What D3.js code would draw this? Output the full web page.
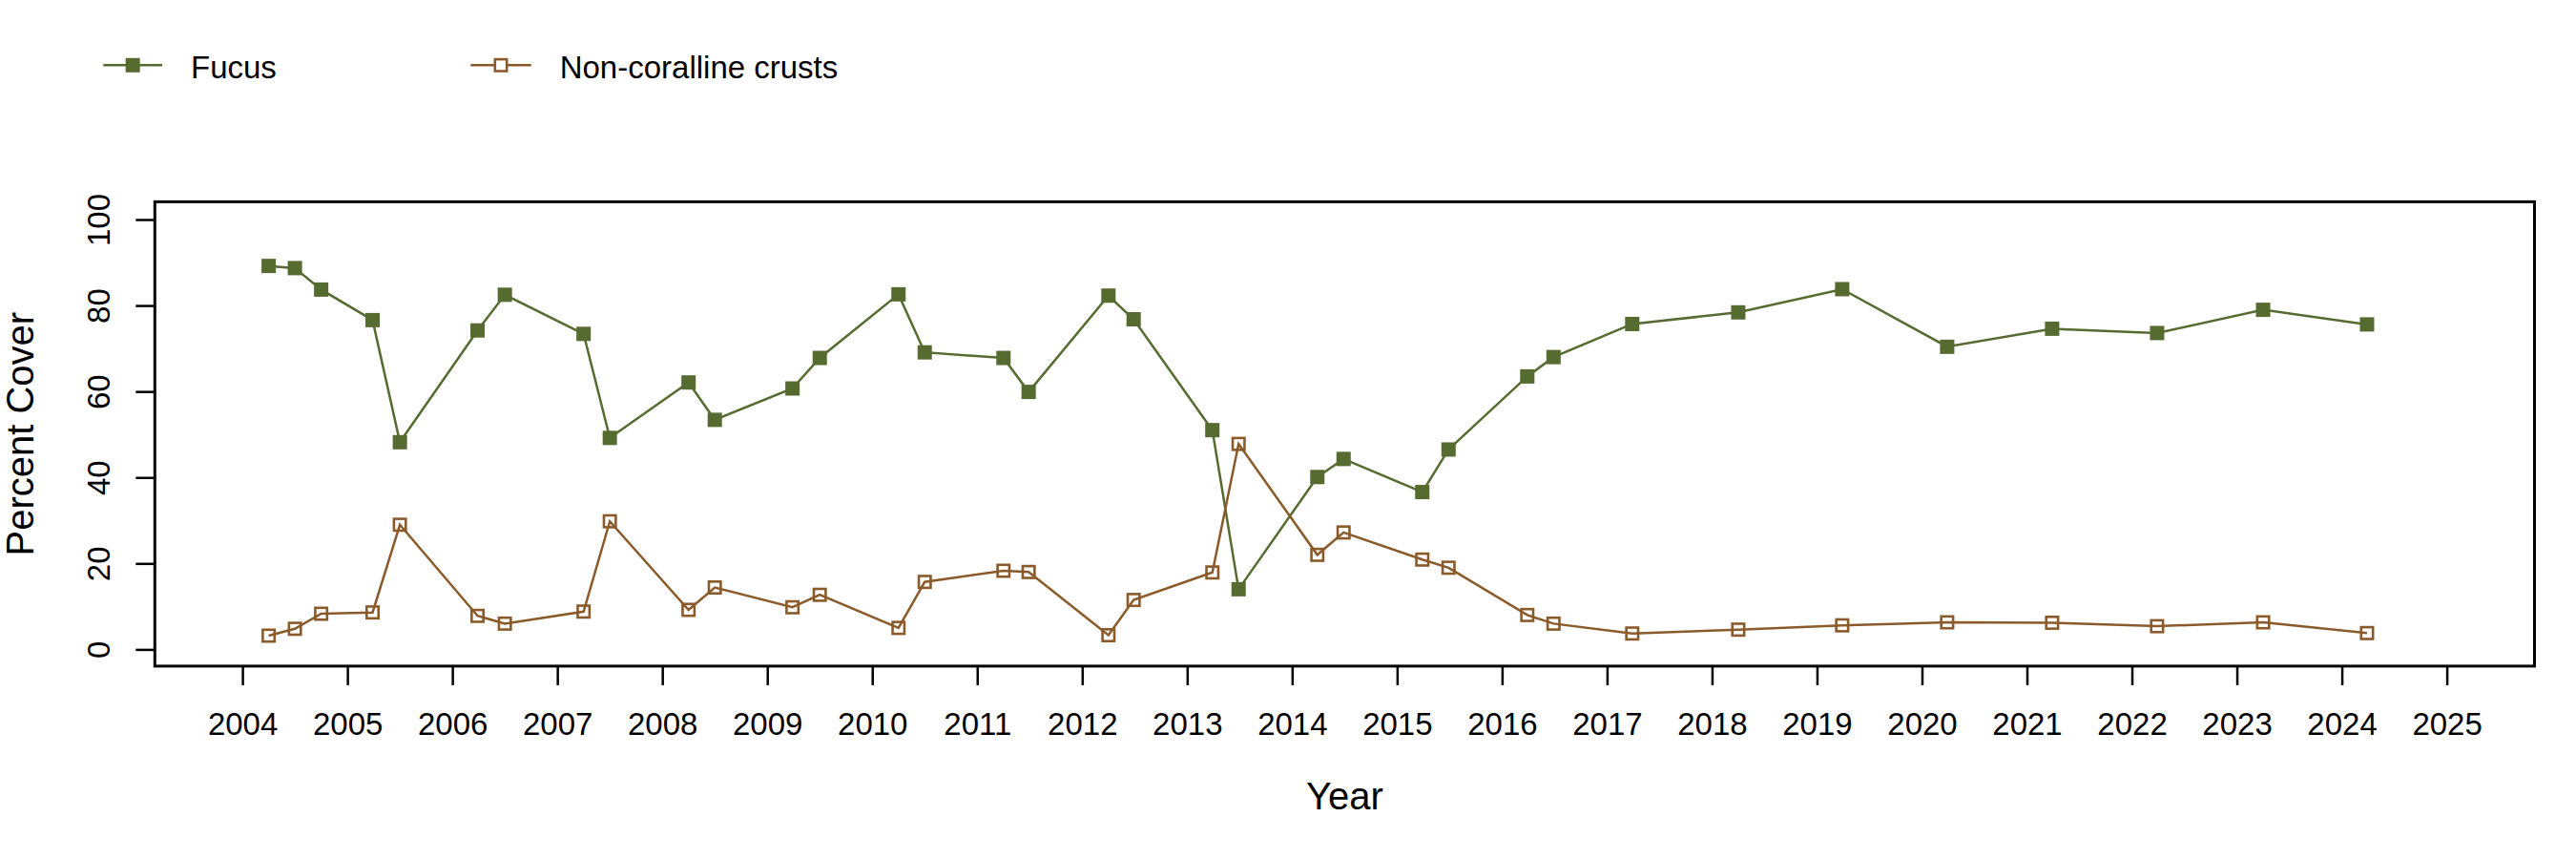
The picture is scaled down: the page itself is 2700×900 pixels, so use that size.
<!DOCTYPE html>
<html>
<head>
<meta charset="utf-8">
<script src="https://cdn.jsdelivr.net/npm/d3@7"></script>
<style>
  html, body { margin: 0; padding: 0; background: #fff; }
  svg { display: block; font-family: "Liberation Sans", Arial, sans-serif; }
</style>
</head>
<body>
<svg id="chart" width="2700" height="900"></svg>
<script>
// ---- data ----
const seriesNames = ["Fucus", "Non-coralline crusts"];
const seriesColors = ["#556B2F", "#8B5A2B"];
const sampleDates = [
  2004.25, 2004.50, 2004.75, 2005.24, 2005.50, 2006.24, 2006.50, 2007.25, 2007.50,
  2008.25, 2008.50, 2009.24, 2009.50, 2010.25, 2010.50, 2011.25, 2011.49,
  2012.25, 2012.49, 2013.24, 2013.49, 2014.24, 2014.49, 2015.24, 2015.49,
  2016.24, 2016.49, 2017.24, 2018.25, 2019.24, 2020.24, 2021.24, 2022.24,
  2023.25, 2024.24
];
const fucus = [
  89.2, 88.7, 83.7, 76.6, 48.2, 74.2, 82.5, 73.4, 49.2,
  62.1, 53.4, 60.7, 67.8, 82.6, 69.1, 67.8, 59.9,
  82.3, 76.8, 51.0, 14.0, 40.1, 44.3, 36.6, 46.5,
  63.5, 68.0, 75.7, 78.4, 83.8, 70.4, 74.6, 73.6,
  79.0, 75.6
];
const crusts = [
  3.2, 4.8, 8.3, 8.6, 29.0, 7.8, 6.0, 8.8, 29.8,
  9.2, 14.4, 9.8, 12.7, 5.0, 15.7, 18.3, 18.0,
  3.3, 11.5, 17.9, 47.8, 22.0, 27.2, 20.9, 19.0,
  8.0, 6.0, 3.7, 4.6, 5.6, 6.3, 6.2, 5.4,
  6.3, 3.8
];
const xTicks = d3.range(2004, 2026);
const yTicks = [0, 20, 40, 60, 80, 100];
const xTitle = "Year";
const yTitle = "Percent Cover";

// ---- layout ----
const box = { left: 162.3, right: 2656.5, top: 211.4, bottom: 697.9 };
const svg = d3.select("#chart");

const x = d3.scaleLinear().domain([2004, 2025]).range([254.1, 2564.6]);
const y = d3.scaleLinear().domain([0, 100]).range([680.4, 230.0]);

// X axis
const gx = svg.append("g")
  .attr("transform", `translate(0,${box.bottom})`)
  .call(d3.axisBottom(x).tickValues(xTicks).tickFormat(d3.format("d")).tickSize(20).tickPadding(0));
gx.select(".domain").remove();
gx.selectAll(".tick line").attr("stroke", "#000").attr("stroke-width", 2.5);
gx.selectAll(".tick text")
  .attr("y", 72).attr("dy", 0)
  .attr("font-size", 33).attr("fill", "#000")
  .attr("font-family", "Liberation Sans, Arial, sans-serif");

// Y axis
const gy = svg.append("g")
  .attr("transform", `translate(${box.left},0)`)
  .call(d3.axisLeft(y).tickValues(yTicks).tickFormat(d3.format("d")).tickSize(20));
gy.select(".domain").remove();
gy.selectAll(".tick line").attr("stroke", "#000").attr("stroke-width", 2.5);
gy.selectAll(".tick text")
  .attr("x", 0).attr("y", -47.3).attr("dy", 0)
  .attr("transform", "rotate(-90)")
  .attr("text-anchor", "middle")
  .attr("font-size", 33).attr("fill", "#000")
  .attr("font-family", "Liberation Sans, Arial, sans-serif");

// Axis titles
svg.append("text")
  .attr("x", (box.left + box.right) / 2).attr("y", 848)
  .attr("text-anchor", "middle").attr("font-size", 40).attr("fill", "#000")
  .text(xTitle);
svg.append("text")
  .attr("transform", `translate(35,${(box.top + box.bottom) / 2}) rotate(-90)`)
  .attr("text-anchor", "middle").attr("font-size", 40).attr("fill", "#000")
  .text(yTitle);

// Series
const allSeries = [fucus, crusts];
const line = d3.line().x((d, i) => x(sampleDates[i])).y(d => y(d));
const mk = 15;

allSeries.forEach((vals, si) => {
  const col = seriesColors[si];
  svg.append("path")
    .datum(vals)
    .attr("d", line)
    .attr("fill", "none")
    .attr("stroke", col)
    .attr("stroke-width", 2.5);
  const pts = svg.append("g").selectAll("rect").data(vals).join("rect");
  if (si === 0) {
    pts.attr("x", (d, i) => x(sampleDates[i]) - mk / 2)
      .attr("y", d => y(d) - mk / 2)
      .attr("width", mk).attr("height", mk)
      .attr("fill", col);
  } else {
    const s = mk - 2.6;
    pts.attr("x", (d, i) => x(sampleDates[i]) - s / 2)
      .attr("y", d => y(d) - s / 2)
      .attr("width", s).attr("height", s)
      .attr("fill", "none").attr("stroke", col).attr("stroke-width", 2.6);
  }
});

// Box
svg.append("rect")
  .attr("x", box.left).attr("y", box.top)
  .attr("width", box.right - box.left).attr("height", box.bottom - box.top)
  .attr("fill", "none").attr("stroke", "#000").attr("stroke-width", 3);

// Legend
const legendItems = [
  { x0: 108.3, x1: 170.0, tx: 200.0 },
  { x0: 493.3, x1: 556.7, tx: 586.7 }
];
const ly = 68.3;
legendItems.forEach((it, si) => {
  const col = seriesColors[si];
  const g = svg.append("g");
  g.append("line").attr("x1", it.x0).attr("x2", it.x1).attr("y1", ly).attr("y2", ly)
    .attr("stroke", col).attr("stroke-width", 2.5);
  const cx = (it.x0 + it.x1) / 2;
  if (si === 0) {
    g.append("rect").attr("x", cx - mk / 2).attr("y", ly - mk / 2)
      .attr("width", mk).attr("height", mk).attr("fill", col);
  } else {
    const s = mk - 2.6;
    g.append("rect").attr("x", cx - s / 2).attr("y", ly - s / 2)
      .attr("width", s).attr("height", s)
      .attr("fill", "#fff").attr("stroke", col).attr("stroke-width", 2.6);
  }
  g.append("text").attr("x", it.tx).attr("y", 81.7)
    .attr("font-size", 33).attr("fill", "#000")
    .text(seriesNames[si]);
});
</script>
</body>
</html>
